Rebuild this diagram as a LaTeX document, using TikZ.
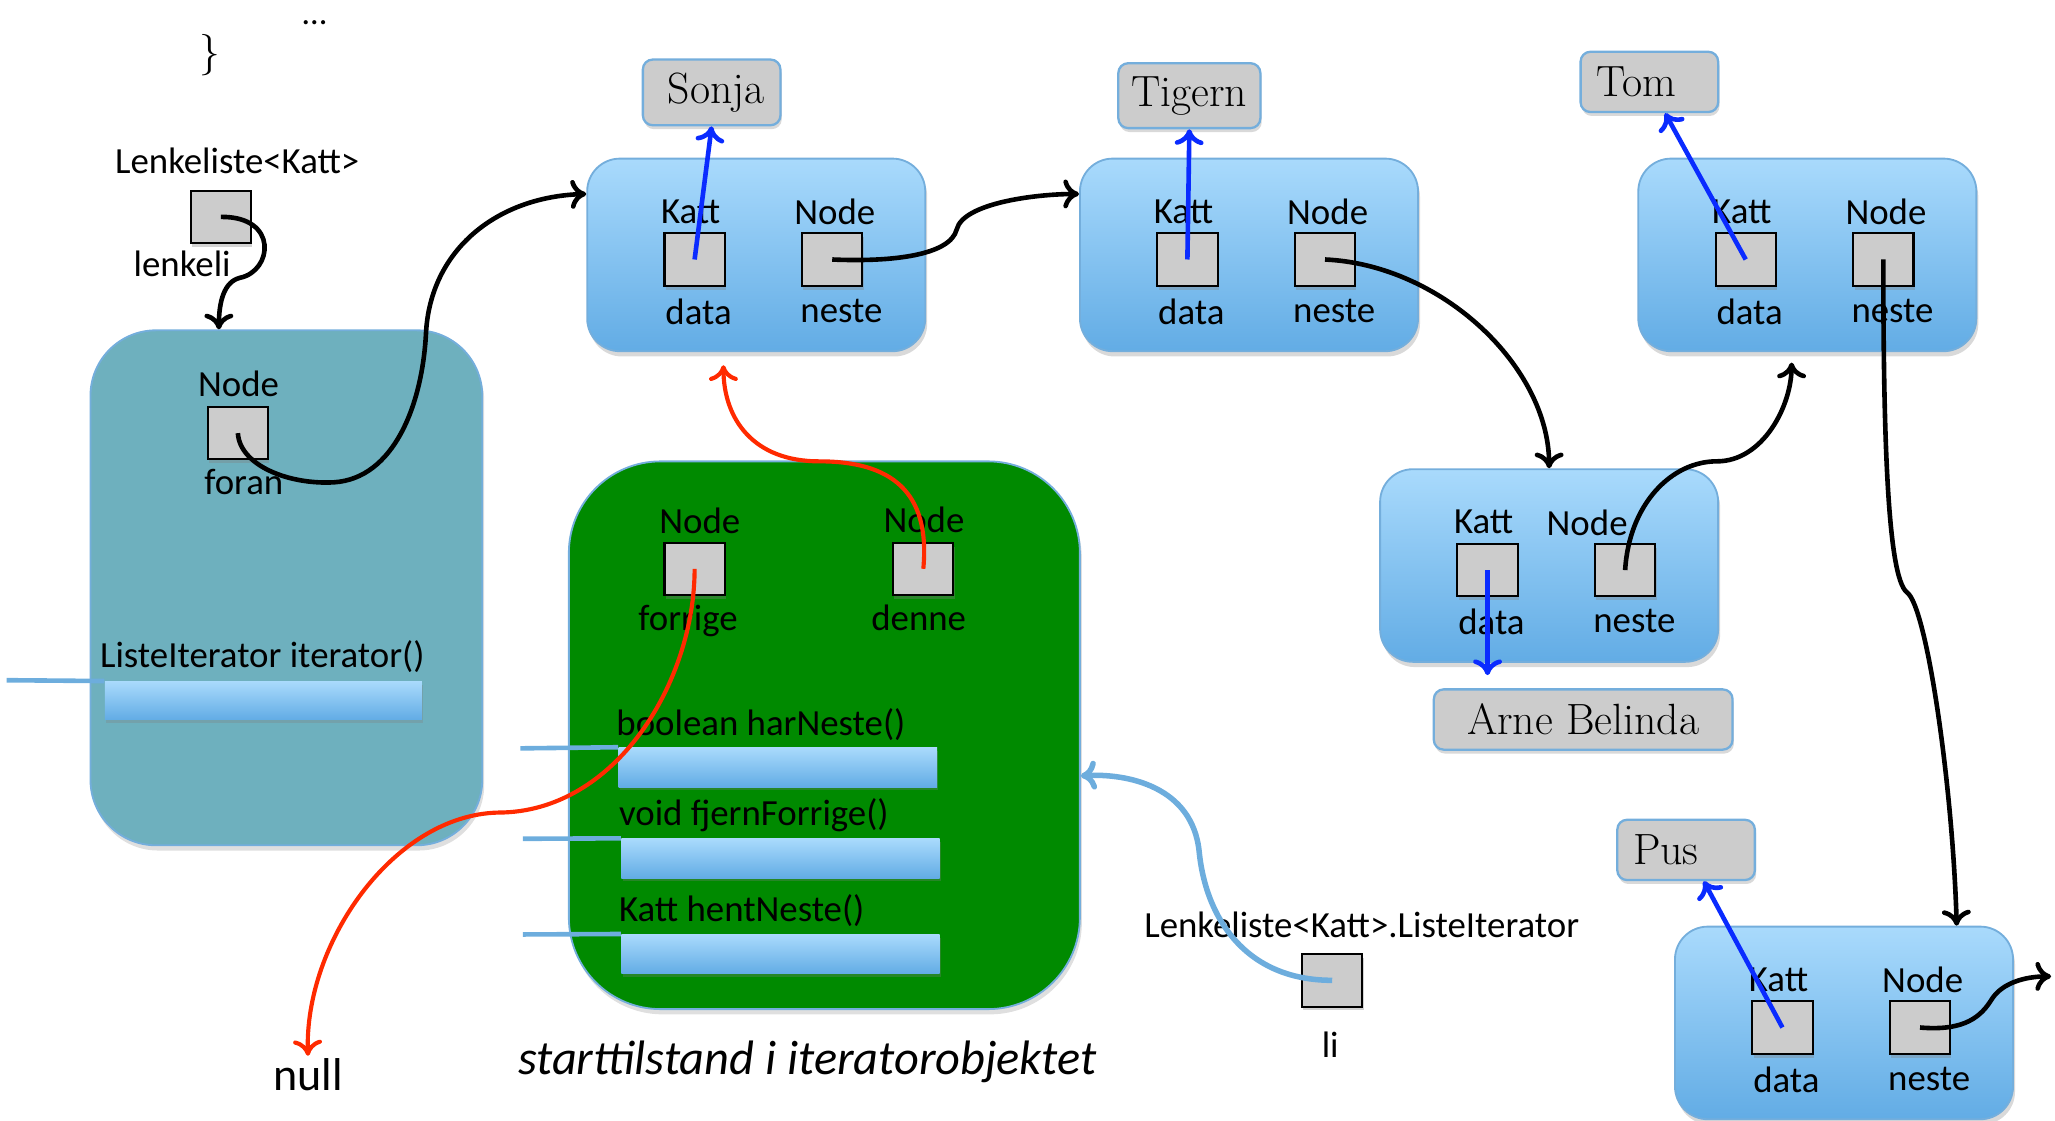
\documentclass[tikz,border=0pt]{standalone}
\usepackage{fontspec}
\newfontfamily\calfont{Carlito}
\usetikzlibrary{arrows.meta,shadows}
\definecolor{tealbg}{HTML}{6EB0BE}
\definecolor{greenbg}{HTML}{008A00}
\definecolor{edgeblue}{HTML}{74AEDC}
\definecolor{celltop}{HTML}{A9DAFC}
\definecolor{cellbot}{HTML}{62ACE5}
\definecolor{cellgray}{HTML}{CCCCCC}
\definecolor{ptrblue}{HTML}{0A2BFF}
\definecolor{ptrred}{HTML}{FF2A00}
\definecolor{libl}{HTML}{6DADDD}

\begin{document}
\begin{tikzpicture}[x=0.02cm,y=-0.02cm,>={To[length=2.4mm,width=4.4mm]},
  outerbox/.style={draw=edgeblue,line width=0.8pt,drop shadow={opacity=0.25,shadow xshift=0.03cm,shadow yshift=-0.08cm}},
  listnode/.style={draw=edgeblue,line width=0.8pt,rounded corners=0.5cm,top color=celltop,bottom color=cellbot,minimum width=5.16cm,minimum height=2.94cm,inner sep=0,drop shadow={opacity=0.3,shadow xshift=0.03cm,shadow yshift=-0.08cm}},
  cell/.style={draw=black,line width=0.9pt,fill=cellgray,minimum width=0.92cm,minimum height=0.8cm,inner sep=0,drop shadow={opacity=0.35,shadow xshift=0.02cm,shadow yshift=-0.06cm}},
  namebox/.style={draw=edgeblue,line width=1pt,fill=cellgray,rounded corners=0.15cm,minimum width=2.1cm,minimum height=0.92cm,inner sep=0.2cm,font=\fontsize{19}{22}\selectfont,drop shadow={opacity=0.3,shadow xshift=0.02cm,shadow yshift=-0.06cm}},
  bar/.style={top color=celltop,bottom color=cellbot,minimum width=4.86cm,minimum height=0.6cm,inner sep=0,drop shadow={opacity=0.3,shadow xshift=0.02cm,shadow yshift=-0.05cm}},
  lbl/.style={font=\calfont\fontsize{16}{19}\selectfont,inner sep=0pt,text height=10.5pt,text depth=0pt},
  link/.style={->,line width=2pt,black},
  dataptr/.style={->,line width=2pt,ptrblue},
  iterptr/.style={->,line width=1.8pt,ptrred},
  refptr/.style={->,line width=2.4pt,libl},
  stub/.style={line width=2pt,libl}]
  \useasboundingbox (0,0) rectangle (1568,855);

  \node[font=\calfont\fontsize{15}{18}\selectfont,inner sep=0pt,anchor=base] (dots) at (240,19) {…};
  \node[font=\fontsize{18}{21}\selectfont] (brace) at (160,42) {\}};

  \node[outerbox,fill=tealbg,minimum width=5.98cm,minimum height=7.86cm,rounded corners=1cm] (lenkeliste) at (218.5,448.5) {};
  \node[outerbox,fill=greenbg,minimum width=7.8cm,minimum height=8.36cm,rounded corners=1.4cm] (iterobj) at (629,561) {};

  \foreach \n/\x/\y/\nx in {sonja/577/194.5/60, tigern/953/194.5/60, arne/1182/431.5/29, tom/1379/194.5/60, pus/1407/780.5/60}{
    \node[listnode] (\n) at (\x,\y) {};
    \node[cell] (\n-data) at (\x-47,\y+3.5) {};
    \node[cell] (\n-neste) at (\x+58,\y+3.5) {};
    \node[lbl] (\n-katt) at (\x-50,\y-33.5) {Katt};
    \node[lbl] (\n-node) at (\x+\nx,\y-32.5) {Node};
    \node[lbl] (\n-datalbl) at (\x-44,\y+43.5) {data};
    \node[lbl] (\n-nestelbl) at (\x+65,\y+42) {neste};
  }

  \node[namebox,text width=1.62cm,align=right,inner xsep=0.24cm] (sonja-name) at (543,70.5) {Sonja};
  \node[namebox] (tigern-name) at (907.5,73) {Tigern};
  \node[namebox,text width=1.62cm,align=left,inner xsep=0.24cm] (tom-name) at (1258.5,62.5) {Tom};
  \node[namebox,minimum width=4.56cm] (arne-name) at (1208,549) {Arne Belinda};
  \node[namebox,text width=1.62cm,align=left,inner xsep=0.24cm] (pus-name) at (1286.5,648.5) {Pus};

  \node[cell] (lenkeli) at (168.5,165.5) {};
  \node[cell] (foran) at (181.5,330.5) {};
  \node[cell] (forrige) at (530,434) {};
  \node[cell] (denne) at (704.5,434) {};
  \node[cell] (li) at (1016.5,748) {};

  \node[lbl] (lenkeli-type) at (181,123) {Lenkeliste<Katt>};
  \node[lbl] (lenkeli-name) at (139,202) {lenkeli};
  \node[lbl] (foran-type) at (182,293) {Node};
  \node[lbl] (foran-name) at (186,368) {foran};
  \node[lbl] (forrige-type) at (534,398) {Node};
  \node[lbl] (forrige-name) at (525,472) {forrige};
  \node[lbl] (denne-type) at (705,397) {Node};
  \node[lbl] (denne-name) at (701,472) {denne};
  \node[lbl] (li-type) at (1039,706) {Lenkeliste<Katt>.ListeIterator};
  \node[lbl] (li-name) at (1015,798) {li};

  \node[bar,minimum width=4.84cm,minimum height=0.58cm] (iterator-bar) at (201,534.5) {};
  \node[bar] (harneste-bar) at (593.5,585.5) {};
  \node[bar] (fjern-bar) at (595.5,655) {};
  \node[bar] (hent-bar) at (595.5,728) {};
  \coordinate (iterator-stub) at (5,519);
  \coordinate (harneste-stub) at (397,571);
  \coordinate (fjern-stub) at (399,640);
  \coordinate (hent-stub) at (399,713);
  \draw[stub] (iterator-stub) -- (iterator-bar.north west);
  \draw[stub] (harneste-stub) -- (harneste-bar.north west);
  \draw[stub] (fjern-stub) -- (fjern-bar.north west);
  \draw[stub] (hent-stub) -- (hent-bar.north west);
  \node[lbl,anchor=west] (iterator-sig) at (76,500) {ListeIterator iterator()};
  \node[lbl,anchor=west] (harneste-sig) at (470,552) {boolean harNeste()};
  \node[lbl,anchor=west] (fjern-sig) at (472,621) {void fjernForrige()};
  \node[lbl,anchor=west] (hent-sig) at (472,694) {Katt hentNeste()};

  \node[font=\calfont\itshape\fontsize{21}{25}\selectfont] (caption) at (616,810) {starttilstand i iteratorobjektet};
  \node[font=\calfont\fontsize{20}{24}\selectfont,inner sep=1pt] (null) at (235,820) {null};
  \coordinate (pus-out) at (1565,745);

  \draw[link] (lenkeli.center) .. controls (213,165) and (208,207) .. (183,212) .. controls (171,215) and (167,230) .. ([xshift=-1.03cm]lenkeliste.north);
  \draw[link] (foran.center) .. controls (183,355) and (220,370) .. (255,368) .. controls (300,365) and (322,310) .. (325,255) .. controls (328,190) and (380,150) .. ([yshift=0.93cm]sonja.west);
  \draw[link] (sonja-neste.center) .. controls (680,200) and (725,195) .. (730,175) .. controls (735,155) and (790,148) .. ([yshift=0.93cm]tigern.west);
  \draw[link] (tigern-neste.center) .. controls (1100,202) and (1182,280) .. (arne.north);
  \draw[link,shorten >=0.16cm] (arne-neste.center) .. controls (1243,385) and (1275,352) .. (1310,352) .. controls (1345,352) and (1367,310) .. ([xshift=-0.24cm]tom.south);
  \draw[link] (tom-neste.center) .. controls (1437,330) and (1440,440) .. (1455,452) .. controls (1470,462) and (1490,600) .. ([xshift=1.72cm]pus.north);
  \draw[link] (pus-neste.center) .. controls (1500,787) and (1512,775) .. (1520,762) .. controls (1528,750) and (1545,745) .. (pus-out);

  \draw[dataptr] (sonja-data.center) -- (sonja-name.south);
  \draw[dataptr] (tigern-data.center) -- (tigern-name.south);
  \draw[dataptr] (tom-data.center) -- ([xshift=0.24cm]tom-name.south);
  \draw[dataptr] (pus-data.center) -- ([xshift=0.27cm]pus-name.south);
  \draw[dataptr,shorten >=0.2cm] (arne-data.center) -- ([xshift=-1.46cm]arne-name.north);

  \draw[iterptr] (forrige.center) .. controls (530,520) and (470,620) .. (380,620) .. controls (300,622) and (232,720) .. (null.north);
  \draw[iterptr,shorten >=0.2cm] (denne.center) .. controls (710,375) and (680,352) .. (625,352) .. controls (575,352) and (552,320) .. ([xshift=-0.5cm]sonja.south);

  \draw[refptr] (li.center) .. controls (950,748) and (920,700) .. (915,650) .. controls (910,600) and (860,590) .. ([yshift=-0.62cm]iterobj.east);
\end{tikzpicture}
\end{document}
